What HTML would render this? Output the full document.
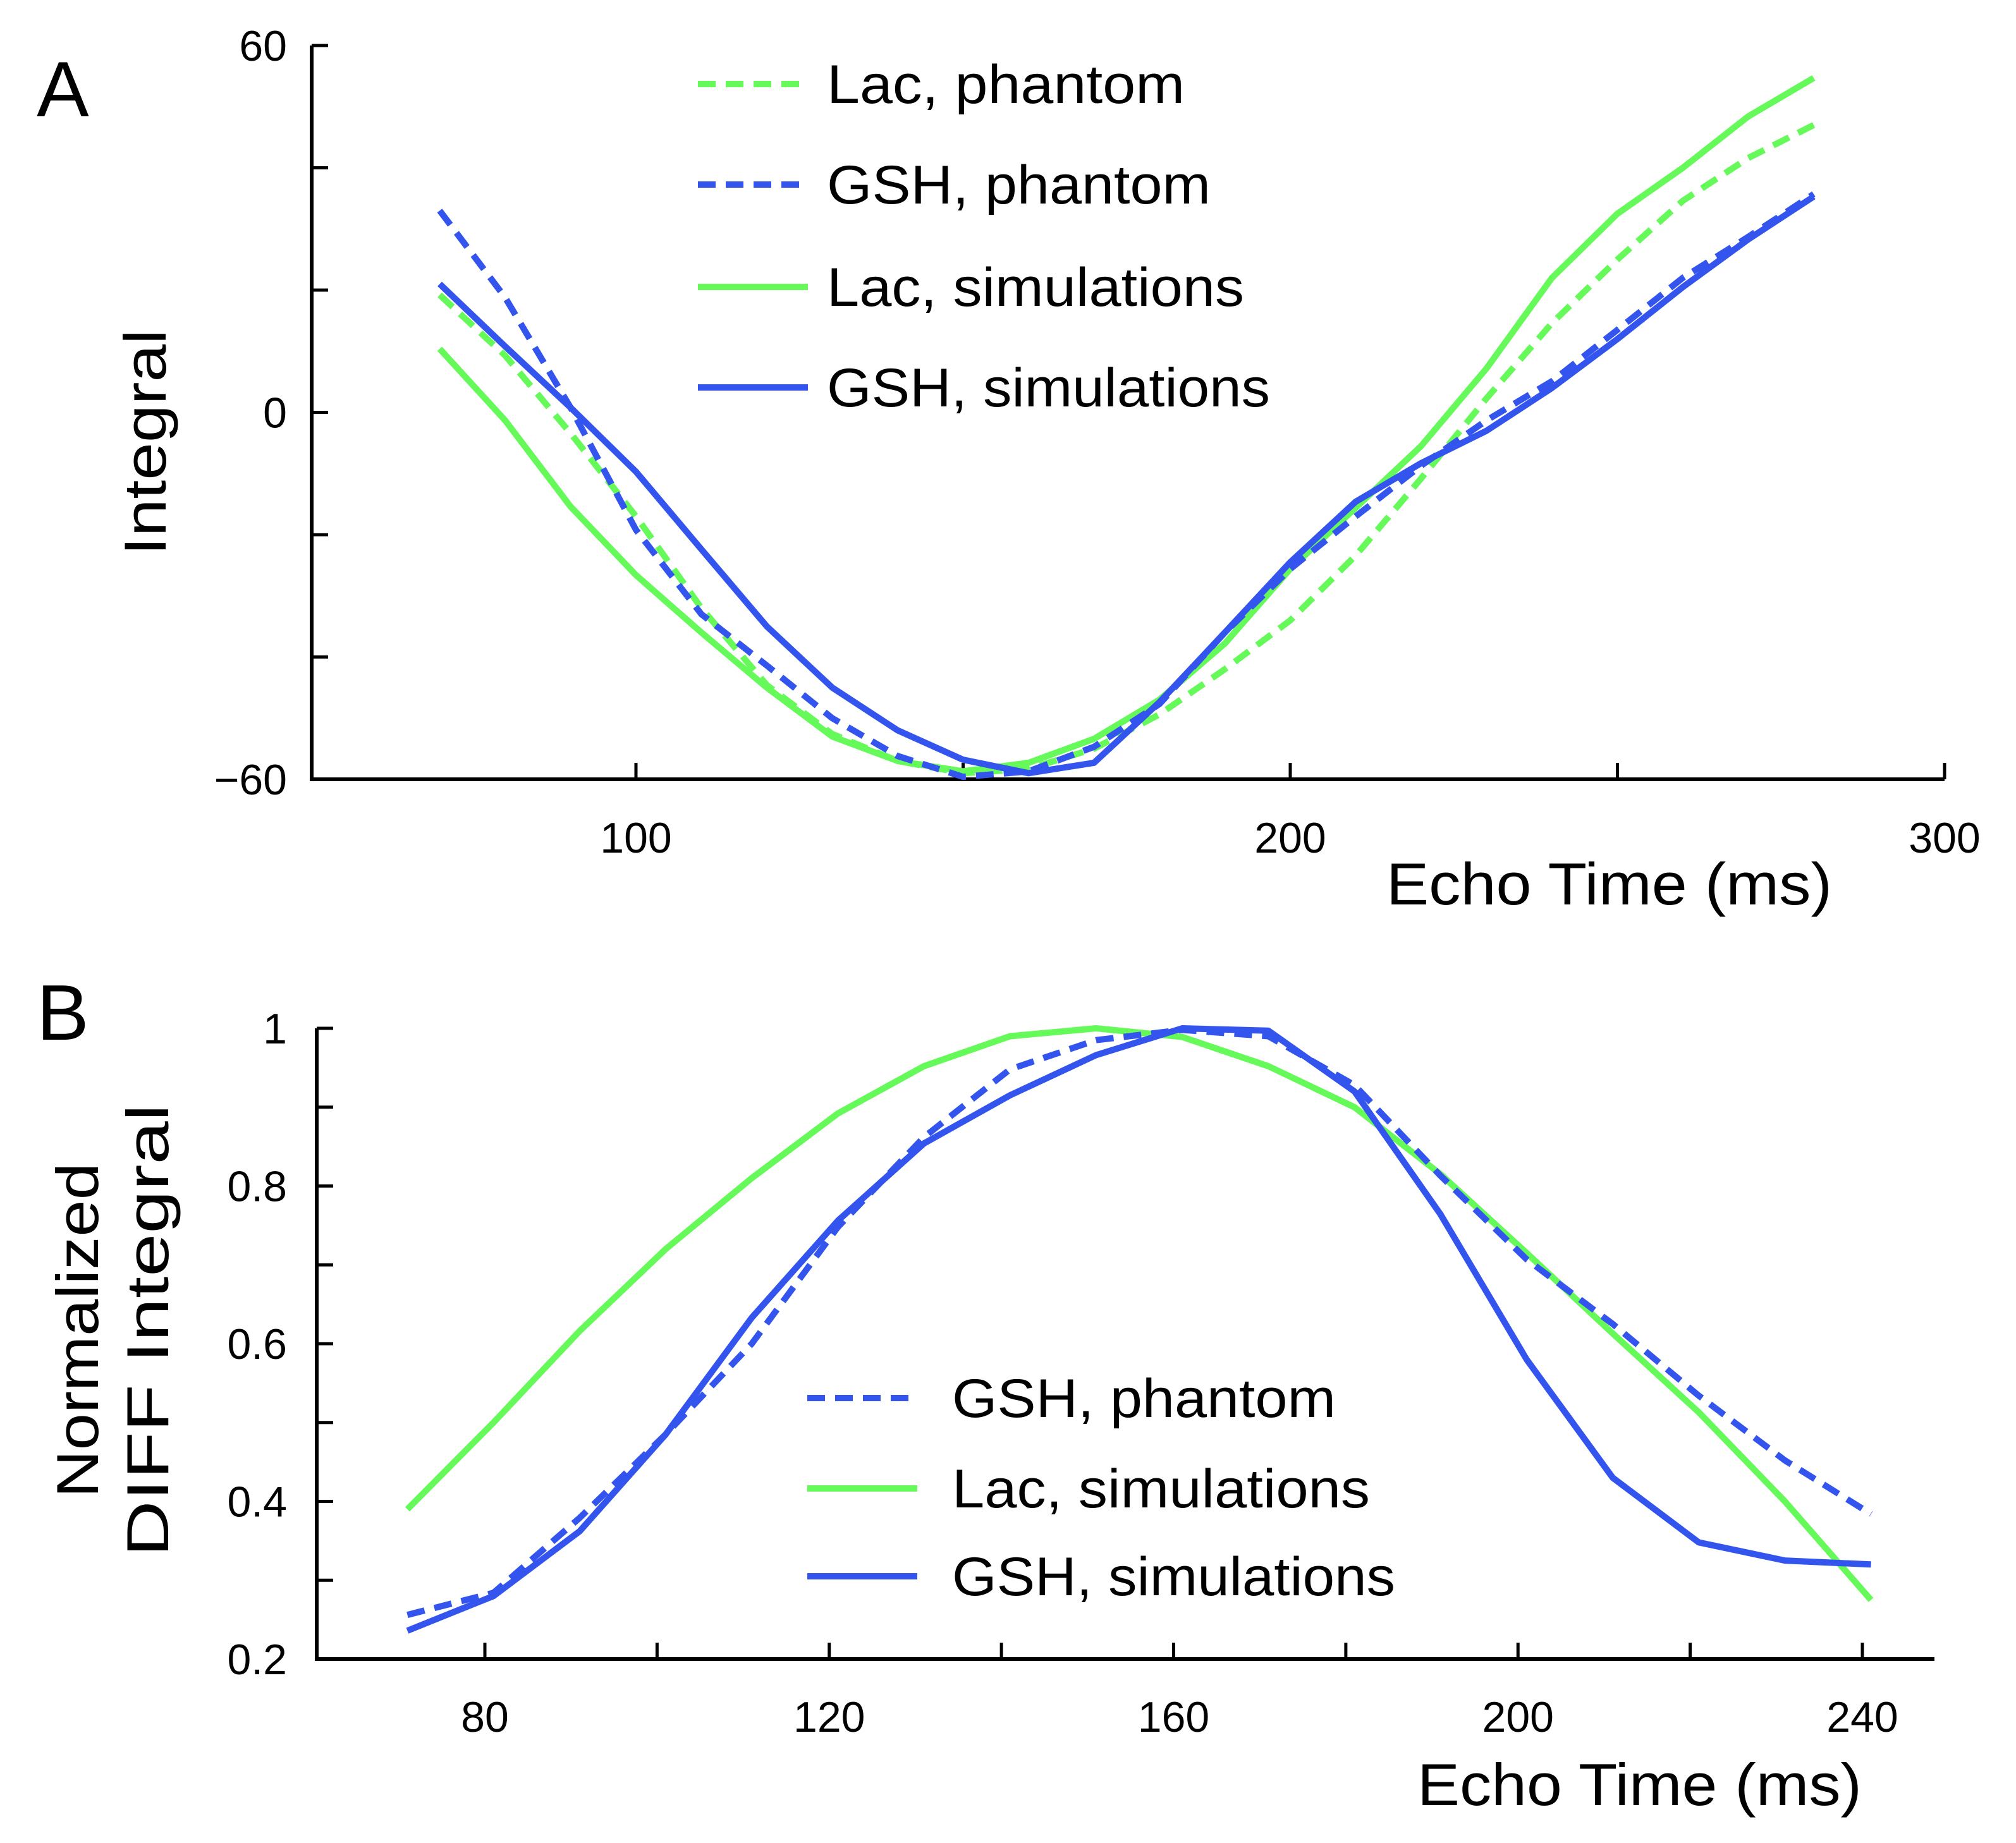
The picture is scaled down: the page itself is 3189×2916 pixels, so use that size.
<!DOCTYPE html>
<html><head><meta charset="utf-8"><style>
html,body{margin:0;padding:0;background:#fff}
svg{display:block}
text{font-family:"Liberation Sans",sans-serif;fill:#000}
</style></head><body>
<svg id="fig" width="3189" height="2916" viewBox="0 0 3189 2916" xmlns="http://www.w3.org/2000/svg"></svg>
<script>
// ---- Panel A data ----
const xA = [70,80,90,100,110,120,130,140,150,160,170,180,190,200,210,220,230,240,250,260,270,280];
const lacSimA = [10.4,-1.3,-15.4,-26.6,-36,-45,-53,-57,-58.7,-57.3,-53.4,-47,-37.8,-25.6,-15.6,-5.5,7.2,22,32.5,40,48.4,54.7];
const lacPhA = [19.2,9.3,-3.4,-17,-32,-44.6,-52.6,-57,-59,-58.3,-55,-49.4,-42,-34,-23.4,-10.8,2.3,14.6,25,34.6,41.6,47];
const gshPhA = [33,18.8,0.8,-19.2,-33,-41.4,-50,-56.2,-59.6,-58.7,-54.7,-47.7,-36,-25.6,-17,-8.7,-1.3,5.1,13.5,22,28.7,35.7];
const gshSimA = [21,10.8,0.8,-9.7,-22.4,-35,-45,-52,-56.8,-59,-57.3,-47.4,-36,-24.5,-14.6,-8.3,-3,4,12,20.5,28.3,35.3];
const xTicksA = [100,200,300];
const yTicksA = [-60,0,60];
// ---- Panel B data ----
const xB = [71,81,91,101,111,121,131,141,151,161,171,181,191,201,211,221,231,241];
const lacSimB = [0.39,0.5,0.616,0.72,0.81,0.892,0.952,0.99,1.0,0.989,0.952,0.9,0.815,0.715,0.613,0.513,0.4,0.275];
const gshPhB = [0.256,0.284,0.379,0.485,0.6,0.748,0.862,0.948,0.985,0.998,0.99,0.928,0.813,0.707,0.625,0.534,0.452,0.384];
const gshSimB = [0.236,0.28,0.362,0.485,0.633,0.756,0.854,0.915,0.966,1.0,0.997,0.92,0.764,0.58,0.43,0.348,0.325,0.32];
const xTicksB = [80,120,160,200,240];
const yTicksB = [0.2,0.4,0.6,0.8,1];

const NS="http://www.w3.org/2000/svg";
const svg=document.getElementById('fig');
const GREEN="#66f95a", BLUE="#3355ee";
function mk(tag,attrs,parent){const e=document.createElementNS(NS,tag);for(const k in attrs)e.setAttribute(k,attrs[k]);(parent||svg).appendChild(e);return e;}

const sxA=v=>1006+(v-100)*(3076-1006)/200;
const syA=v=>1233-(v+60)*(1233-72)/120;
const sxB=v=>767+(v-80)*(2946-767)/160;
const syB=v=>2625-(v-0.2)*(2625-1627)/0.8;

function axes(name,x0,x1,y0,y1,xt,yt){
  const g=mk('g',{});
  
  
  const ax=mk('line',{x1:x0,y1:y0,x2:x1,y2:y0,stroke:'#000','stroke-width':6},g);
  
  
  const ay=mk('line',{x1:x0,y1:y0+3,x2:x0,y2:y1,stroke:'#000','stroke-width':6},g);
  
  
  xt.forEach(p=>{const t=mk('line',{x1:p,y1:y0,x2:p,y2:y0-26,stroke:'#000','stroke-width':5},g);
    
    });
  yt.forEach(p=>{const t=mk('line',{x1:x0,y1:p,x2:x0+26,y2:p,stroke:'#000','stroke-width':5},g);
    
    });
}
function label(txt,x,y,size,anchor,name,extra){
  const t=mk('text',Object.assign({x:x,y:y,'font-size':size,'text-anchor':anchor||'start'},extra||{}));
  t.textContent=txt;
  
  
  return t;
}
function series(xs,ys,sx,sy,color,dashed,name){
  const d=xs.map((x,i)=>(i?'L':'M')+sx(x).toFixed(1)+','+sy(ys[i]).toFixed(1)).join(' ');
  const p=mk('path',{d:d,fill:'none',stroke:color,'stroke-width':10,'stroke-linejoin':'round'});
  if(dashed)p.setAttribute('stroke-dasharray','28 16');
  
  
}
function legend(y,color,dashed,txt,lx,tx,tw,name){
  const l=mk('line',{x1:lx,y1:y,x2:lx+174,y2:y,stroke:color,'stroke-width':10});
  if(dashed)l.setAttribute('stroke-dasharray','28 16');
  
  
  label(txt,tx,y+30,86,'start',name+'-label',{textLength:tw,lengthAdjust:'spacingAndGlyphs'});
}

// ---- Panel A ----
const ytA=[]; for(let v=-60;v<=60;v+=20) ytA.push(syA(v));
const xtA=[]; for(let v=100;v<=300;v+=50) xtA.push(sxA(v));
axes('panel-a',493,3076,1233,72,xtA,ytA);
xTicksA.forEach(v=>label(String(v),sxA(v),1349,68,'middle','x-tick-label-a'));
yTicksA.forEach(v=>label(v<0?'\u2212'+(-v):String(v),454,syA(v)+24,68,'end','y-tick-label-a'));
series(xA,lacSimA,sxA,syA,GREEN,false,'lac-simulations-line-a');
series(xA,lacPhA,sxA,syA,GREEN,true,'lac-phantom-line-a');
series(xA,gshPhA,sxA,syA,BLUE,true,'gsh-phantom-line-a');
series(xA,gshSimA,sxA,syA,BLUE,false,'gsh-simulations-line-a');
legend(133,GREEN,true,'Lac, phantom',1104,1308,566,'legend-a-lac-phantom');
legend(292,BLUE,true,'GSH, phantom',1104,1308,607,'legend-a-gsh-phantom');
legend(454,GREEN,false,'Lac, simulations',1104,1308,660,'legend-a-lac-simulations');
legend(613,BLUE,false,'GSH, simulations',1104,1308,701,'legend-a-gsh-simulations');
label('Echo Time (ms)',2193,1431,94,'start','x-axis-title-a',{textLength:705,lengthAdjust:'spacingAndGlyphs'});
label('Integral',262,700,94,'middle','y-axis-title-a',{transform:'rotate(-90 262 700)',textLength:358,lengthAdjust:'spacingAndGlyphs'});
label('A',58,184,124,'start','panel-label-a');

// ---- Panel B ----
const ytB=[]; for(let v=0.2;v<=1.001;v+=0.1) ytB.push(syB(v));
const xtB=[]; for(let v=80;v<=240;v+=20) xtB.push(sxB(v));
axes('panel-b',501,3060,2625,1627,xtB,ytB);
xTicksB.forEach(v=>label(String(v),sxB(v),2740,68,'middle','x-tick-label-b'));
yTicksB.forEach(v=>label(v===1?'1':v.toFixed(1),454,syB(v)+24,68,'end','y-tick-label-b'));
series(xB,lacSimB,sxB,syB,GREEN,false,'lac-simulations-line-b');
series(xB,gshPhB,sxB,syB,BLUE,true,'gsh-phantom-line-b');
series(xB,gshSimB,sxB,syB,BLUE,false,'gsh-simulations-line-b');
legend(2212,BLUE,true,'GSH, phantom',1277,1506,607,'legend-b-gsh-phantom');
legend(2355,GREEN,false,'Lac, simulations',1277,1506,661,'legend-b-lac-simulations');
legend(2494,BLUE,false,'GSH, simulations',1277,1506,701,'legend-b-gsh-simulations');
label('Echo Time (ms)',2242,2856,94,'start','x-axis-title-b',{textLength:703,lengthAdjust:'spacingAndGlyphs'});
label('Normalized',155,2105,94,'middle','y-axis-title-b-line1',{transform:'rotate(-90 155 2105)',textLength:530,lengthAdjust:'spacingAndGlyphs'});
label('DIFF Integral',266,2105,94,'middle','y-axis-title-b-line2',{transform:'rotate(-90 266 2105)',textLength:716,lengthAdjust:'spacingAndGlyphs'});
label('B',58,1645,124,'start','panel-label-b');
</script>
</body></html>
